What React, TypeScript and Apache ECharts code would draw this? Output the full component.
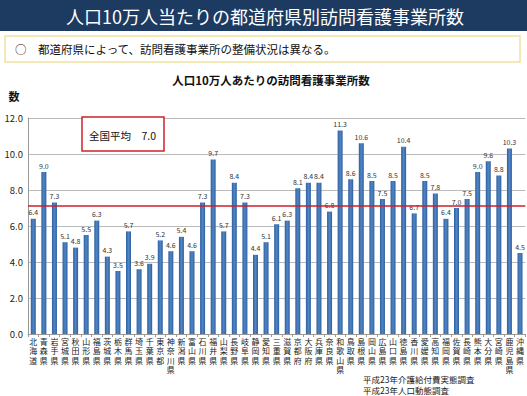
import React, { useEffect, useRef } from "react";
import * as echarts from "echarts";

const prefectures = [
  "北海道", "青森県", "岩手県", "宮城県", "秋田県", "山形県", "福島県", "茨城県", "栃木県", "群馬県",
  "埼玉県", "千葉県", "東京都", "神奈川県", "新潟県", "富山県", "石川県", "福井県", "山梨県", "長野県",
  "岐阜県", "静岡県", "愛知県", "三重県", "滋賀県", "京都府", "大阪府", "兵庫県", "奈良県", "和歌山県",
  "鳥取県", "島根県", "岡山県", "広島県", "山口県", "徳島県", "香川県", "愛媛県", "高知県", "福岡県",
  "佐賀県", "長崎県", "熊本県", "大分県", "宮崎県", "鹿児島県", "沖縄県",
];
const offices = [
  6.4, 9.0, 7.3, 5.1, 4.8, 5.5, 6.3, 4.3, 3.5, 5.7,
  3.6, 3.9, 5.2, 4.6, 5.4, 4.6, 7.3, 9.7, 5.7, 8.4,
  7.3, 4.4, 5.1, 6.1, 6.3, 8.1, 8.4, 8.4, 6.8, 11.3,
  8.6, 10.6, 8.5, 7.5, 8.5, 10.4, 6.7, 8.5, 7.8, 6.4,
  7.0, 7.5, 9.0, 9.6, 8.8, 10.3, 4.5,
];
const nationalAverageLine = 7.12;
const nationalAverageText = "全国平均　7.0";
const yTicks = { min: 0, max: 12, interval: 2 };
const sources = ["平成23年介護給付費実態調査", "平成23年人口動態調査"];

const FONT = '"Noto Sans CJK JP", "Noto Sans", sans-serif';
const LABEL_FONT = '"Liberation Sans", "Noto Sans CJK JP", sans-serif';

export default function App() {
  const ref = useRef<HTMLDivElement>(null);
  useEffect(() => {
    document.body.style.margin = "0";
    const chart = echarts.init(ref.current!, null, { renderer: "svg" });
    chart.setOption({
      animation: false,
      backgroundColor: "#ffffff",
      textStyle: { fontFamily: FONT },
      grid: { left: 28, right: 1, top: 118, bottom: 62, containLabel: false },
      xAxis: {
        type: "category",
        data: prefectures,
        axisLine: { lineStyle: { color: "#999" } },
        axisTick: { show: true, alignWithLabel: false, length: 3, lineStyle: { color: "#999" } },
        axisLabel: {
          interval: 0,
          rotate: 0,
          margin: 4,
          fontSize: 8,
          lineHeight: 9.2,
          fontFamily: LABEL_FONT,
          color: "#222",
          verticalAlign: "top",
          formatter: (v: string) => v.split("").join("\n"),
        },
      },
      yAxis: {
        type: "value",
        min: yTicks.min,
        max: yTicks.max,
        interval: yTicks.interval,
        axisLine: { show: true, lineStyle: { color: "#999" } },
        axisTick: { show: false },
        axisLabel: { fontSize: 9.5, color: "#222", margin: 5, formatter: (v: number) => v.toFixed(1) },
        splitLine: { lineStyle: { color: "#bbb" } },
      },
      series: [
        {
          type: "bar",
          data: offices,
          barWidth: 5,
          itemStyle: {
            color: new echarts.graphic.LinearGradient(0, 0, 1, 0, [
              { offset: 0, color: "#2f5f9e" },
              { offset: 0.5, color: "#4f86c6" },
              { offset: 1, color: "#2f5f9e" },
            ]),
          },
          label: {
            show: true,
            position: "top",
            distance: 3,
            fontSize: 7,
            color: "#333",
            formatter: (p: any) => Number(p.value).toFixed(1),
          },
          markLine: {
            silent: true,
            symbol: "none",
            label: { show: false },
            lineStyle: { color: "#cc1f2a", width: 1.6, type: "solid" },
            data: [{ yAxis: nationalAverageLine }],
          },
        },
      ],
      graphic: [
        { type: "rect", shape: { x: 0, y: 0, width: 527, height: 31 }, style: { fill: "#1d3a60" } },
        {
          type: "text", x: 265, y: 16,
          style: { text: "人口10万人当たりの都道府県別訪問看護事業所数", fill: "#ffffff", fontSize: 18, fontFamily: FONT, align: "center", verticalAlign: "middle" },
        },
        {
          type: "rect", shape: { x: 5, y: 36, width: 515, height: 26 },
          style: { fill: "#ffffff", stroke: "#f0e2a0", lineWidth: 1.5 },
        },
        {
          type: "text", x: 15, y: 49,
          style: { text: "○　都道府県によって、訪問看護事業所の整備状況は異なる。", fill: "#111", fontSize: 11.5, fontFamily: FONT, verticalAlign: "middle" },
        },
        {
          type: "text", x: 271, y: 80,
          style: { text: "人口10万人あたりの訪問看護事業所数", fill: "#111", fontSize: 11.5, fontWeight: "bold", fontFamily: FONT, align: "center", verticalAlign: "middle" },
        },
        {
          type: "text", x: 14, y: 96,
          style: { text: "数", fill: "#111", fontSize: 11, fontWeight: "bold", fontFamily: FONT, align: "center", verticalAlign: "middle" },
        },
        {
          type: "rect", shape: { x: 82, y: 117, width: 82, height: 34 },
          style: { fill: "#ffffff", stroke: "#d0202a", lineWidth: 1.5 },
          z: 100,
        },
        {
          type: "text", x: 89, y: 135, z: 101,
          style: { text: nationalAverageText, fill: "#111", fontSize: 10.5, fontFamily: FONT, verticalAlign: "middle" },
        },
        {
          type: "text", x: 363, y: 379,
          style: { text: sources[0], fill: "#222", fontSize: 8.5, fontFamily: FONT, verticalAlign: "middle" },
        },
        {
          type: "text", x: 363, y: 390,
          style: { text: sources[1], fill: "#222", fontSize: 8.5, fontFamily: FONT, verticalAlign: "middle" },
        },
      ],
    });
    return () => chart.dispose();
  }, []);
  return <div ref={ref} style={{ position: "absolute", left: 0, top: 0, width: 527, height: 396 }} />;
}
